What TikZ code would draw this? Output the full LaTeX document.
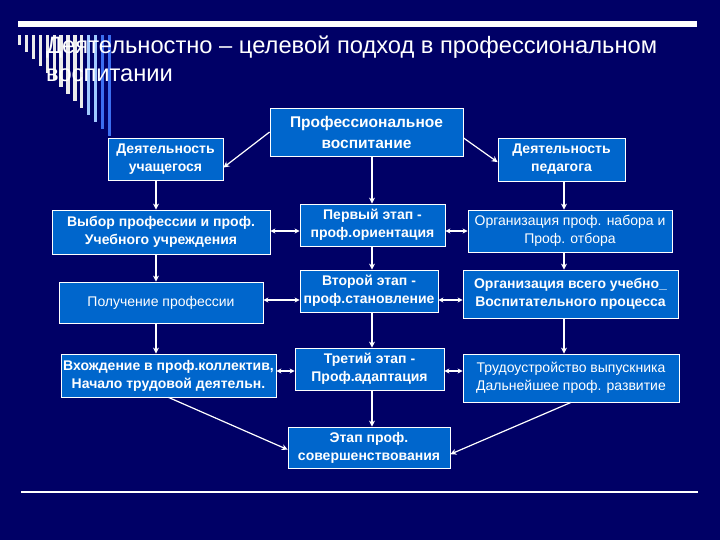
\documentclass[tikz,border=0pt]{standalone}
\usepackage{fontspec}
\setmainfont{Liberation Sans}
\usetikzlibrary{arrows.meta,calc}
\definecolor{bgnavy}{RGB}{0,0,102}
\definecolor{boxblue}{RGB}{0,102,204}
\definecolor{stripea}{RGB}{235,235,235}
\definecolor{stripeb}{RGB}{160,200,255}
\definecolor{stripec}{RGB}{60,110,240}
\tikzset{
  box/.style={draw=white, line width=0.8pt, fill=boxblue, text=white, align=center,
    inner sep=0pt, font=\fontsize{14}{18}\selectfont\bfseries},
  boxn/.style={box, font=\fontsize{14}{18}\selectfont},
  arr/.style={draw=white, line width=1.2pt, -{Stealth[length=6pt,width=6pt]}},
  darr/.style={draw=white, line width=1.2pt, {Stealth[length=5pt,width=5pt]}-{Stealth[length=5pt,width=5pt]}},
  ttl/.style={text=white, anchor=base west, inner sep=0pt, font=\fontsize{23.7}{28}\selectfont}
}
\begin{document}
\begin{tikzpicture}[x=1pt,y=-1pt]
\fill[bgnavy] (0,0) rectangle (720,540);
\useasboundingbox (0,0) rectangle (720,540);
% top band and bottom rule
\fill[white] (18,21) rectangle (697,27);
\draw[white, line width=1.2pt] (21,492) -- (698,492);
% stripes
\foreach \i/\c in {0/stripea,1/stripea,2/stripea,3/stripea,4/stripea,5/stripea,6/stripea,7/stripea,8/stripea,9/stripea,10/stripeb,11/stripeb,12/stripec,13/stripec}{
  \fill[\c] ({18+6.9*\i},35) rectangle ++(3.3,{10+7*\i});
}
% title
\node[ttl] (t1) at (46,54) {Деятельностно – целевой подход в профессиональном};
\node[ttl] (t2) at (46,82) {воспитании};
% boxes
\node[box, minimum width=193pt, minimum height=48pt, font=\fontsize{15.5}{21}\selectfont\bfseries] (pv) at (366.5,132) {Профессиональное\\воспитание};
\node[box, minimum width=115pt, minimum height=42pt] (du) at (165.5,159) {Деятельность\\учащегося};
\node[box, minimum width=127pt, minimum height=43pt] (dp) at (561.5,159.5) {Деятельность\\педагога};
\node[box, minimum width=218pt, minimum height=44pt] (vp) at (161,232) {Выбор профессии и проф.\\Учебного учреждения};
\node[box, minimum width=145pt, minimum height=42pt] (e1) at (372.5,225) {Первый этап -\\проф.ориентация};
\node[boxn, minimum width=204pt, minimum height=42pt] (on) at (570,231) {Организация проф. набора и\\Проф. отбора};
\node[boxn, minimum width=204pt, minimum height=41pt] (pp) at (161,302.5) {Получение профессии};
\node[box, minimum width=138pt, minimum height=42pt] (e2) at (369,291) {Второй этап -\\проф.становление};
\node[box, minimum width=215pt, minimum height=48pt] (ov) at (570.5,294) {Организация всего учебно\_\\Воспитательного процесса};
\node[box, minimum width=215pt, minimum height=43pt] (vk) at (168.5,375.5) {Вхождение в проф.коллектив,\\Начало трудовой деятельн.};
\node[box, minimum width=149pt, minimum height=42pt] (e3) at (369.5,369) {Третий этап -\\Проф.адаптация};
\node[boxn, minimum width=216pt, minimum height=48pt] (tv) at (571,378) {Трудоустройство выпускника\\Дальнейшее проф. развитие};
\node[box, minimum width=162pt, minimum height=41pt] (es) at (369,447.5) {Этап проф.\\совершенствования};
% column coordinates
\coordinate (lx) at (156,0);
\coordinate (cx) at (372,0);
\coordinate (rx) at (564,0);
\coordinate (r1) at (0,231);
\coordinate (r2) at (0,300);
\coordinate (r3) at (0,371);
% diagonal arrows from top box
\draw[arr] (pv.west) -- ($(du.north east)!0.7!(du.south east)$);
\draw[arr] ($(pv.north east)!0.62!(pv.south east)$) -- ($(dp.north west)!0.56!(dp.south west)$);
% vertical arrows
\draw[arr] (du.south -| lx) -- (vp.north -| lx);
\draw[arr] (vp.south -| lx) -- (pp.north -| lx);
\draw[arr] (pp.south -| lx) -- (vk.north -| lx);
\draw[arr] (pv.south -| cx) -- (e1.north -| cx);
\draw[arr] (e1.south -| cx) -- (e2.north -| cx);
\draw[arr] (e2.south -| cx) -- (e3.north -| cx);
\draw[arr] (e3.south -| cx) -- (es.north -| cx);
\draw[arr] (dp.south -| rx) -- (on.north -| rx);
\draw[arr] (on.south -| rx) -- (ov.north -| rx);
\draw[arr] (ov.south -| rx) -- (tv.north -| rx);
% horizontal double arrows
\draw[darr] (vp.east |- r1) -- (e1.west |- r1);
\draw[darr] (e1.east |- r1) -- (on.west |- r1);
\draw[darr] (pp.east |- r2) -- (e2.west |- r2);
\draw[darr] (e2.east |- r2) -- (ov.west |- r2);
\draw[darr] (vk.east |- r3) -- (e3.west |- r3);
\draw[darr] (e3.east |- r3) -- (tv.west |- r3);
% converging arrows
\draw[arr] (vk.south) -- ($(es.north west)!0.55!(es.south west)$);
\draw[arr] (tv.south) -- ($(es.north east)!0.66!(es.south east)$);
\end{tikzpicture}
\end{document}
